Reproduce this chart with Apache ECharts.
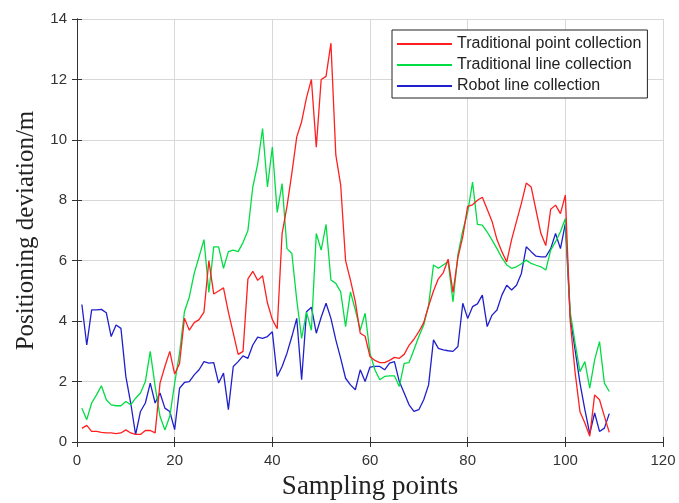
<!DOCTYPE html>
<html>
<head>
<meta charset="utf-8">
<script src="https://cdn.jsdelivr.net/npm/echarts@6/dist/echarts.min.js"></script>
<style>
  html, body { margin: 0; padding: 0; background: #fff; }
  #main { width: 679px; height: 503px; }
</style>
</head>
<body>
<div id="main"></div>
<script>
// 采样点 1..109
var seriesNames = ['Traditional point collection', 'Traditional line collection', 'Robot line collection'];
var xTicks = [0, 20, 40, 60, 80, 100, 120];
var yTicks = [0, 2, 4, 6, 8, 10, 12, 14];

var pointCollection = [
    0.45, 0.55, 0.35, 0.35, 0.32, 0.30, 0.30, 0.28, 0.30, 0.40,
    0.30, 0.25, 0.25, 0.38, 0.38, 0.30, 1.95, 2.50, 3.00, 2.25,
    2.60, 4.10, 3.70, 3.95, 4.05, 4.30, 6.00, 4.90, 5.00, 5.10,
    4.30, 3.60, 2.90, 3.00, 5.40, 5.65, 5.35, 5.50, 4.60, 4.05,
    3.75, 6.90, 7.80, 8.90, 10.10, 10.60, 11.40, 12.00, 9.76, 12.00,
    12.10, 13.20, 9.50, 8.50, 6.00, 5.36, 4.64, 3.60, 3.50, 2.83,
    2.70, 2.63, 2.63, 2.70, 2.80, 2.77, 2.90, 3.20, 3.40, 3.65,
    3.95, 4.50, 5.00, 5.40, 5.60, 6.05, 4.95, 6.10, 6.80, 7.80,
    7.85, 8.00, 8.10, 7.70, 7.30, 6.70, 6.30, 5.96, 6.70, 7.30,
    7.90, 8.57, 8.44, 7.67, 6.90, 6.50, 7.70, 7.84, 7.56, 8.17,
    4.00, 2.30, 1.00, 0.63, 0.19, 1.56, 1.40, 0.85, 0.32
];
var lineCollection = [
    1.12, 0.74, 1.29, 1.56, 1.86, 1.40, 1.23, 1.20, 1.20, 1.34,
    1.23, 1.45, 1.62, 2.00, 3.00, 1.84, 0.85, 0.40, 0.85, 1.95,
    2.94, 4.31, 4.80, 5.58, 6.13, 6.70, 4.95, 6.46, 6.46, 5.75,
    6.30, 6.35, 6.30, 6.60, 7.00, 8.44, 9.20, 10.37, 8.44, 9.76,
    7.60, 8.55, 6.40, 6.24, 4.70, 3.43, 4.30, 3.70, 6.90, 6.35,
    7.20, 5.36, 5.25, 4.97, 3.82, 4.97, 4.37, 3.70, 4.26, 2.94,
    2.39, 2.06, 2.17, 2.19, 2.19, 1.84, 2.60, 2.63, 3.05, 3.49,
    3.87, 4.53, 5.86, 5.75, 5.86, 5.97, 4.64, 6.19, 7.00, 7.60,
    8.60, 7.20, 7.18, 6.95, 6.68, 6.40, 6.10, 5.86, 5.75, 5.80,
    5.90, 6.02, 5.91, 5.85, 5.80, 5.69, 6.35, 6.63, 6.96, 7.40,
    4.31, 3.27, 2.33, 2.66, 1.78, 2.72, 3.32, 1.95, 1.67
];
var robotCollection = [
    4.55, 3.21, 4.37, 4.37, 4.39, 4.28, 3.49, 3.87, 3.76, 2.17,
    1.29, 0.24, 1.01, 1.29, 1.95, 1.29, 1.62, 1.12, 1.01, 0.41,
    1.78, 1.97, 2.00, 2.22, 2.39, 2.66, 2.61, 2.63, 1.95, 2.28,
    1.07, 2.50, 2.66, 2.85, 2.77, 3.21, 3.47, 3.43, 3.49, 3.65,
    2.17, 2.50, 2.94, 3.49, 4.09, 2.06, 4.31, 4.46, 3.60, 4.13,
    4.59, 4.09, 3.38, 2.77, 2.11, 1.89, 1.73, 2.39, 2.00, 2.48,
    2.50, 2.50, 2.39, 2.61, 2.66, 2.00, 1.62, 1.23, 1.01, 1.07,
    1.40, 1.89, 3.38, 3.10, 3.05, 3.02, 3.00, 3.16, 4.59, 4.09,
    4.48, 4.57, 4.86, 3.82, 4.20, 4.37, 4.86, 5.19, 5.03, 5.19,
    5.58, 6.46, 6.30, 6.15, 6.13, 6.13, 6.40, 6.90, 6.40, 7.23,
    4.15, 3.05, 1.95, 1.07, 0.28, 0.96, 0.35, 0.46, 0.94
];
var lineColors = ['#ff1f1f', '#00dd44', '#1f1fcc'];

function toPairs(arr) {
    return arr.map(function (v, i) { return [i + 1, v]; });
}

var myChart = echarts.init(document.getElementById('main'));

var tickFont = { fontFamily: 'Liberation Sans', fontSize: 15, color: '#333' };
var axisLine = { show: true, lineStyle: { color: '#333', width: 1 } };
var axisTick = { show: true, length: -5, lineStyle: { color: '#333' } };
var gridLine = { show: true, lineStyle: { color: '#d8d8d8', width: 1 } };

var option = {
    backgroundColor: '#fff',
    animation: false,
    grid: { left: 77, right: 16, top: 19, bottom: 61, outerBoundsMode: 'none', containLabel: false },
    legend: {
        orient: 'vertical',
        left: 392,
        top: 30,
        padding: [5, 6, 3, 5],
        itemGap: 3,
        itemWidth: 55,
        itemHeight: 2,
        icon: 'rect',
        borderColor: '#222',
        borderWidth: 1,
        borderRadius: 0,
        backgroundColor: '#fff',
        textStyle: { fontFamily: 'Liberation Sans', fontSize: 16, lineHeight: 18, color: '#222' },
        data: seriesNames
    },
    xAxis: [
        {
            type: 'value', min: xTicks[0], max: xTicks[xTicks.length - 1], interval: 20,
            name: 'Sampling points', nameLocation: 'middle', nameGap: 31,
            nameTextStyle: { fontFamily: 'Liberation Serif', fontSize: 27, color: '#222' },
            axisLine: axisLine, axisTick: axisTick,
            axisLabel: Object.assign({ margin: 11 }, tickFont),
            splitLine: gridLine
        },
        {
            type: 'value', position: 'top', min: 0, max: 120, interval: 20,
            axisLine: axisLine, axisTick: axisTick,
            axisLabel: { show: false }, splitLine: { show: false }
        }
    ],
    yAxis: [
        {
            type: 'value', min: yTicks[0], max: yTicks[yTicks.length - 1], interval: 2,
            name: 'Positioning deviation/m', nameLocation: 'middle', nameGap: 38,
            nameTextStyle: { fontFamily: 'Liberation Serif', fontSize: 25, color: '#222' },
            axisLine: axisLine, axisTick: axisTick,
            axisLabel: Object.assign({ margin: 10 }, tickFont),
            splitLine: gridLine
        },
        {
            type: 'value', position: 'right', min: 0, max: 14, interval: 2,
            axisLine: axisLine, axisTick: axisTick,
            axisLabel: { show: false }, splitLine: { show: false }
        }
    ],
    series: [
        { name: seriesNames[0], type: 'line', data: toPairs(pointCollection) },
        { name: seriesNames[1], type: 'line', data: toPairs(lineCollection) },
        { name: seriesNames[2], type: 'line', data: toPairs(robotCollection) }
    ].map(function (s, k) {
        s.showSymbol = false;
        s.symbol = 'none';
        s.color = lineColors[k];
        s.lineStyle = { color: lineColors[k], width: 1.3 };
        s.z = 3 - k;
        return s;
    })
};
myChart.setOption(option);
</script>
</body>
</html>
